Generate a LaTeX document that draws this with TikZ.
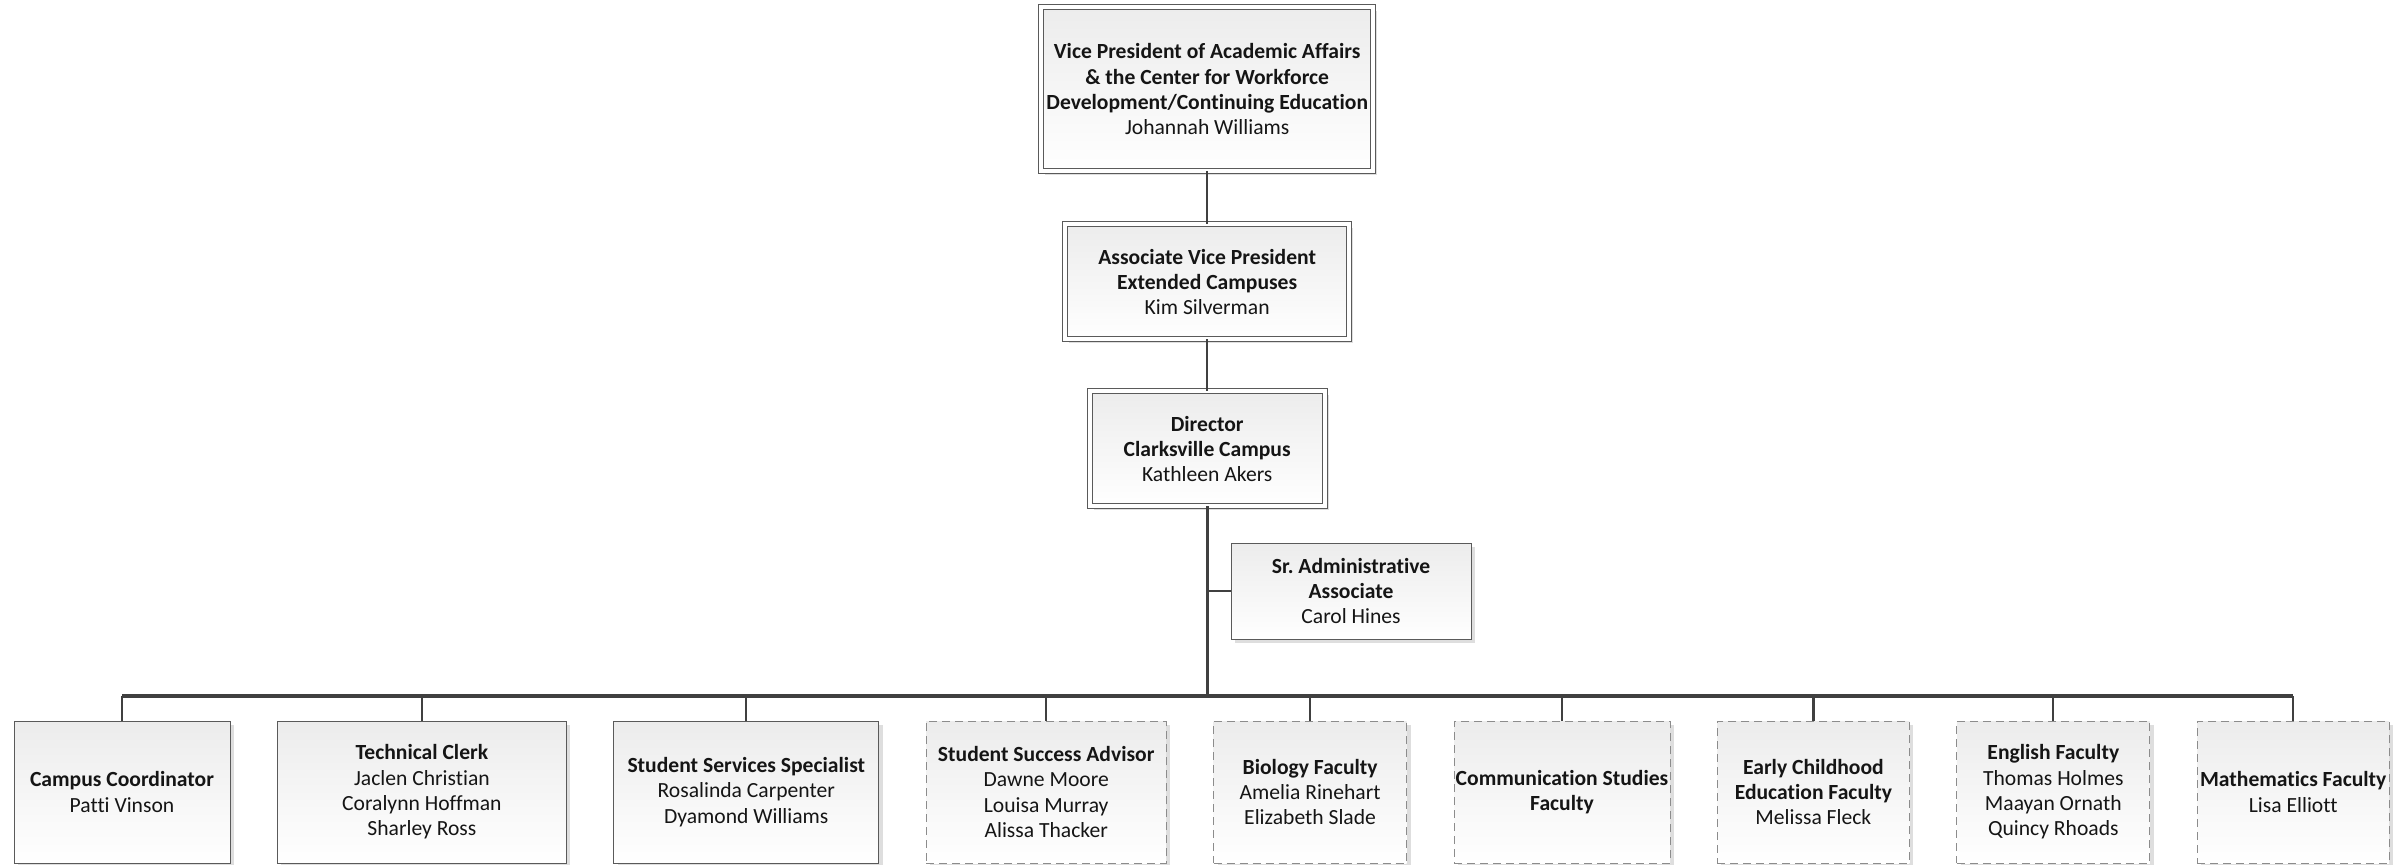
\documentclass[tikz,border=0pt]{standalone}
\usepackage{fontspec}
\setmainfont{Carlito}[Ligatures=NoCommon]
\usetikzlibrary{positioning,shadows}
\definecolor{edge}{HTML}{5A5A5A}
\definecolor{dashgray}{HTML}{8C8C8C}
\definecolor{wire}{HTML}{404040}
\definecolor{shade}{HTML}{ECECEC}
\definecolor{ink}{HTML}{151515}
\frenchspacing

\begin{document}
\begin{tikzpicture}[
      font=\fontsize{10.8}{12.7}\selectfont,
      text=ink,
      unit/.style={draw=edge,line width=0.5pt,rectangle,top color=shade,bottom color=white,align=center,inner xsep=0pt,inner ysep=2pt,outer sep=0pt,
        drop shadow={shadow xshift=2pt,shadow yshift=-2pt,fill=black!13,opacity=1}},
      lead/.style={unit,double=white,double distance=2pt},
      staff/.style={unit,minimum height=71pt},
      adjunct/.style={staff,draw=dashgray,dash pattern=on 4pt off 2.5pt},
      link/.style={wire,line width=1.1pt},
      trunk/.style={wire,line width=1.6pt}]
      \useasboundingbox (0,0) rectangle (1203pt,-432pt);
      \node[lead,minimum width=165.75pt,minimum height=81.75pt] (vp) at (603.6pt,-44.6pt) {\textbf{Vice President of Academic Affairs}\\\textbf{\& the Center for Workforce}\\\textbf{Development/Continuing Education}\\Johannah Williams};
      \node[lead,minimum width=142pt,minimum height=57.5pt,below=26.75pt of vp] (avp) {\textbf{Associate Vice President}\\\textbf{Extended Campuses}\\Kim Silverman};
      \node[lead,minimum width=117.5pt,minimum height=57.5pt,below=26pt of avp] (dir) {\textbf{Director}\\\textbf{Clarksville Campus}\\Kathleen Akers};
      \node[unit,minimum width=120pt,minimum height=48pt] (sra) at (675.5pt,-295.5pt) {\textbf{Sr. Administrative}\\\textbf{Associate}\\Carol Hines};
      % bottom row
      \node[staff,minimum width=108pt,anchor=north west] (coord) at (7pt,-360.5pt) {\textbf{Campus Coordinator}\\Patti Vinson};
      \node[staff,minimum width=144.5pt,right=23.7pt of coord] (clerk) {\textbf{Technical Clerk}\\Jaclen Christian\\Coralynn Hoffman\\Sharley Ross};
      \node[staff,minimum width=132.5pt,right=23.7pt of clerk] (services) {\textbf{Student Services Specialist}\\Rosalinda Carpenter\\Dyamond Williams};
      \node[adjunct,minimum width=120pt,right=23.7pt of services] (advisor) {\textbf{Student Success Advisor}\\Dawne Moore\\Louisa Murray\\Alissa Thacker};
      \node[adjunct,minimum width=96.5pt,right=23.7pt of advisor] (bio) {\textbf{Biology Faculty}\\Amelia Rinehart\\Elizabeth Slade};
      \node[adjunct,minimum width=108pt,right=23.7pt of bio] (comm) {\textbf{Communication Studies}\\\textbf{Faculty}};
      \node[adjunct,minimum width=96pt,right=23.7pt of comm] (early) {\textbf{Early Childhood}\\\textbf{Education Faculty}\\Melissa Fleck};
      \node[adjunct,minimum width=96.5pt,right=23.7pt of early] (engl) {\textbf{English Faculty}\\Thomas Holmes\\Maayan Ornath\\Quincy Rhoads};
      \node[adjunct,minimum width=96pt,right=23.7pt of engl] (math) {\textbf{Mathematics Faculty}\\Lisa Elliott};
      \coordinate (bus) at (dir.south |- 0,-348pt);
      \draw[link] (vp) -- (avp);
      \draw[link] (avp) -- (dir);
      \draw[trunk] (dir) -- (bus);
      \draw[link] (sra.west) -- (sra.west -| dir.south);
      \draw[trunk] (coord.north |- bus) -- (math.north |- bus);
      \foreach \n in {coord,clerk,services,advisor,bio,comm,early,engl,math}
        \draw[link] (\n.north |- bus) -- (\n.north);
    \end{tikzpicture}
\end{document}
